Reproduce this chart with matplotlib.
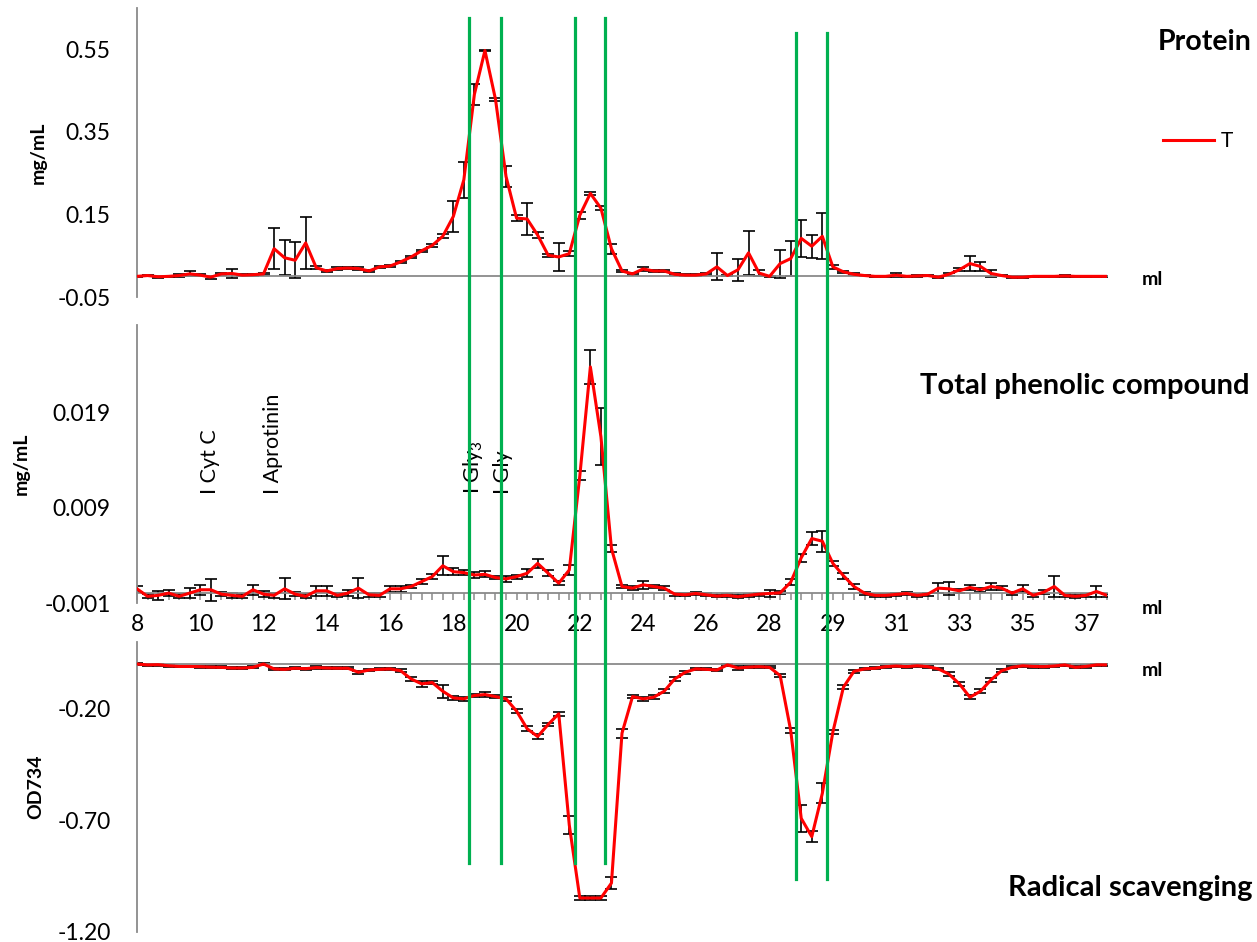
import numpy as np
import matplotlib
matplotlib.use("Agg")
import matplotlib.pyplot as plt
from matplotlib import transforms
from matplotlib.lines import Line2D

plt.rcParams['font.family'] = ['Lato', 'DejaVu Sans']
plt.rcParams['mathtext.default'] = 'regular'

# category labels on the elution axis (one label every 6 fractions)
x_labels = ['8', '10', '12', '14', '16', '18', '20', '22', '24', '26',
            '28', '29', '31', '33', '35', '37']
label_step = 6

# protein, mg/mL
protein = [0.000, 0.002, -0.001, 0.000, 0.002, 0.006, 0.003, -0.002, 0.006, 0.007, 0.003, 0.004, 0.006,
           0.067, 0.045, 0.039, 0.081, 0.021, 0.013, 0.019, 0.020, 0.019, 0.013, 0.023, 0.025, 0.035,
           0.047, 0.062, 0.075, 0.097, 0.145, 0.234, 0.441, 0.547, 0.429, 0.242, 0.141, 0.139, 0.100,
           0.051, 0.047, 0.055, 0.148, 0.201, 0.165, 0.067, 0.013, 0.006, 0.018, 0.013, 0.013, 0.005,
           0.003, 0.003, 0.006, 0.023, 0.002, 0.016, 0.057, 0.008, 0.000, 0.031, 0.043, 0.092, 0.073,
           0.097, 0.023, 0.011, 0.005, 0.002, 0.000, 0.000, 0.003, 0.000, 0.001, 0.002, -0.002, 0.005,
           0.016, 0.031, 0.024, 0.007, 0.002, -0.002, -0.002, 0.000, 0.000, 0.000, 0.001, 0.000, 0.000, 0.000, 0.000]
protein_err = [0.002, 0.002, 0.002, 0.002, 0.003, 0.006, 0.002, 0.004, 0.003, 0.010, 0.002, 0.002, 0.003,
               0.050, 0.042, 0.044, 0.063, 0.004, 0.003, 0.003, 0.003, 0.003, 0.003, 0.003, 0.003, 0.003,
               0.003, 0.003, 0.004, 0.005, 0.038, 0.044, 0.026, 0.002, 0.004, 0.026, 0.008, 0.039, 0.008,
               0.003, 0.033, 0.006, 0.008, 0.004, 0.005, 0.012, 0.002, 0.002, 0.005, 0.002, 0.002, 0.002,
               0.002, 0.002, 0.002, 0.033, 0.002, 0.027, 0.054, 0.008, 0.002, 0.034, 0.043, 0.044, 0.028,
               0.056, 0.004, 0.003, 0.002, 0.002, 0.002, 0.002, 0.004, 0.002, 0.002, 0.002, 0.003, 0.003,
               0.004, 0.019, 0.011, 0.008, 0.002, 0.002, 0.002, 0.002, 0.002, 0.002, 0.002, 0.002, 0.002, 0.002, 0.002]

# total phenolic compound, mg/mL (values x 1e-3)
phenolic = [0.49, -0.30, -0.20, 0.04, -0.30, 0.04, 0.39, 0.39, -0.07, -0.20, -0.30, 0.39, -0.07,
            -0.20, 0.49, -0.07, -0.30, 0.28, 0.28, -0.20, 0.04, 0.56, -0.14, -0.20, 0.49, 0.49,
            0.73, 1.25, 1.77, 2.91, 2.29, 2.19, 1.94, 2.01, 1.67, 1.53, 1.77, 2.12, 3.16,
            2.12, 1.08, 2.47, 12.37, 23.8, 16.47, 4.73, 0.73, 0.56, 0.91, 0.73, 0.56, -0.07,
            -0.14, 0.00, -0.14, -0.27, -0.20, -0.34, -0.20, -0.07, 0.00, 0.07, 1.18, 3.75, 5.77,
            5.49, 3.16, 1.87, 0.73, 0.04, -0.20, -0.20, -0.10, 0.00, -0.20, -0.07, 0.56, 0.49,
            0.28, 0.63, 0.39, 0.73, 0.56, 0.04, 0.49, -0.20, 0.14, 0.73, -0.20, -0.30, -0.20, 0.21, -0.20]
phenolic_err = [0.3, 0.2, 0.5, 0.3, 0.2, 0.5, 0.5, 1.15, 0.2, 0.3, 0.2, 0.5, 0.3,
                0.3, 1.1, 0.2, 0.2, 0.5, 0.5, 0.2, 0.3, 1.05, 0.2, 0.2, 0.3, 0.3,
                0.2, 0.3, 0.3, 1.0, 0.4, 0.3, 0.3, 0.3, 0.2, 0.3, 0.2, 0.4, 0.5,
                0.3, 0.2, 0.5, 0.5, 1.8, 3.0, 0.4, 0.2, 0.2, 0.45, 0.2, 0.2, 0.15,
                0.15, 0.15, 0.15, 0.15, 0.15, 0.15, 0.15, 0.15, 0.35, 0.15, 0.3, 0.4, 0.65,
                1.1, 0.3, 0.3, 0.3, 0.15, 0.15, 0.15, 0.15, 0.15, 0.15, 0.15, 0.5, 0.7,
                0.2, 0.3, 0.2, 0.4, 0.2, 0.15, 0.35, 0.15, 0.2, 1.1, 0.15, 0.15, 0.15, 0.6, 0.15]

# radical scavenging, OD734
scavenging = [0.000, -0.004, -0.003, -0.008, -0.011, -0.011, -0.012, -0.014, -0.015, -0.018, -0.018, -0.015, 0.000,
              -0.022, -0.024, -0.019, -0.021, -0.016, -0.018, -0.019, -0.019, -0.037, -0.027, -0.024, -0.022, -0.030,
              -0.067, -0.089, -0.083, -0.122, -0.152, -0.156, -0.141, -0.137, -0.146, -0.156, -0.211, -0.290, -0.325,
              -0.271, -0.223, -0.722, -1.049, -1.049, -1.049, -0.982, -0.310, -0.146, -0.156, -0.149, -0.122, -0.067,
              -0.037, -0.022, -0.024, -0.027, -0.004, -0.018, -0.014, -0.012, -0.015, -0.052, -0.298, -0.692, -0.774,
              -0.580, -0.305, -0.104, -0.033, -0.022, -0.019, -0.012, -0.009, -0.012, -0.008, -0.012, -0.022, -0.045,
              -0.089, -0.149, -0.122, -0.071, -0.030, -0.015, -0.008, -0.011, -0.012, -0.009, -0.004, -0.015, -0.011, -0.004, -0.004]
scavenging_err = [0.004, 0.004, 0.004, 0.004, 0.004, 0.004, 0.004, 0.004, 0.004, 0.004, 0.004, 0.004, 0.005,
                  0.005, 0.005, 0.005, 0.005, 0.005, 0.005, 0.005, 0.005, 0.006, 0.005, 0.005, 0.005, 0.006,
                  0.008, 0.015, 0.008, 0.030, 0.010, 0.008, 0.008, 0.010, 0.008, 0.008, 0.008, 0.010, 0.010,
                  0.008, 0.008, 0.040, 0.008, 0.008, 0.008, 0.027, 0.020, 0.008, 0.008, 0.008, 0.008, 0.008,
                  0.006, 0.005, 0.005, 0.005, 0.005, 0.008, 0.005, 0.005, 0.005, 0.008, 0.010, 0.060, 0.025,
                  0.045, 0.010, 0.008, 0.006, 0.005, 0.005, 0.005, 0.005, 0.005, 0.005, 0.005, 0.006, 0.008,
                  0.010, 0.010, 0.010, 0.008, 0.008, 0.005, 0.005, 0.005, 0.005, 0.005, 0.005, 0.005, 0.005, 0.005, 0.005]

# standards (fraction position) and the cut lines between pooled peaks
standards = [('I Cyt C', 6.9), ('I Aprotinin', 12.9), ('I Gly$_3$', 31.9), ('I Gly', 34.7)]
cut_fractions = [31.45, 34.5, 41.5, 44.35, 62.5, 65.45]

W, H = 1257, 942
fig = plt.figure(figsize=(W / 100, H / 100), dpi=100)

x = np.arange(len(protein))
GRAY = '#8a8a8a'
RED = '#ff0000'


def panel(rect, y, err, ylim, ticks, ticklabels):
    ax = fig.add_axes(rect)
    ax.errorbar(x, y, yerr=err, fmt='none', ecolor='black', elinewidth=1.2,
                capsize=4.3, capthick=1.2, zorder=2)
    ax.plot(x, y, color=RED, lw=2.2, zorder=3)
    ax.set_xlim(0, len(y) - 1)
    ax.set_ylim(*ylim)
    ax.set_yticks(ticks)
    ax.set_yticklabels(ticklabels)
    ax.tick_params(axis='y', length=0, pad=19, labelsize=16.5)
    for s in ['top', 'right']:
        ax.spines[s].set_visible(False)
    ax.spines['left'].set_color(GRAY)
    ax.spines['left'].set_linewidth(1.3)
    ax.spines['bottom'].set_position(('data', 0))
    ax.spines['bottom'].set_color(GRAY)
    ax.spines['bottom'].set_linewidth(1.3)
    ax.set_xticks([])
    ax.patch.set_visible(False)
    return ax


ax1 = panel([137 / W, 1 - 297 / H, 970 / W, 289 / H], protein, protein_err,
            (-0.05, 0.65), [-0.05, 0.15, 0.35, 0.55], ['-0.05', '0.15', '0.35', '0.55'])

ph = np.array(phenolic) * 1e-3
ph_err = np.array(phenolic_err) * 1e-3
ax2 = panel([137 / W, 1 - 603 / H, 970 / W, 278 / H], ph, ph_err,
            (-0.001, 0.0282), [-0.001, 0.009, 0.019], ['-0.001', '0.009', '0.019'])
ax2.set_xticks(np.arange(0, len(ph), label_step))
ax2.set_xticklabels(x_labels)
ax2.set_xticks(x, minor=True)
ax2.tick_params(axis='x', which='both', direction='out', length=5, color=GRAY,
                width=1.1, labelsize=16.5, pad=10)

ax3 = panel([137 / W, 1 - 931.7 / H, 970 / W, 290 / H], scavenging, scavenging_err,
            (-1.2, 0.1), [-1.2, -0.7, -0.2], ['-1.20', '-0.70', '-0.20'])

for label, pos in standards:
    ax2.text(pos, 0.0104, label, rotation=90, ha='center', va='bottom', fontsize=15.5)

# green cut lines crossing the three panels
blend = transforms.blended_transform_factory(ax2.transData, fig.transFigure)
spans = [(18, 863), (18, 863), (18, 863), (18, 863), (33, 879), (33, 879)]
for xc, (top, bot) in zip(cut_fractions, spans):
    fig.add_artist(Line2D([xc, xc], [1 - top / H, 1 - bot / H], transform=blend,
                          color='#00b050', lw=2.3, zorder=5))

# titles and axis captions
fig.text(1252 / W, 1 - 42 / H, 'Protein', ha='right', va='center', fontsize=20.5, fontweight='bold')
fig.text(1249 / W, 1 - 386 / H, 'Total phenolic compound', ha='right', va='center', fontsize=21, fontweight='bold')
fig.text(1252 / W, 1 - 888 / H, 'Radical scavenging', ha='right', va='center', fontsize=21, fontweight='bold')
fig.text(38 / W, 1 - 153 / H, 'mg/mL', rotation=90, ha='center', va='center', fontsize=14, fontweight='bold')
fig.text(21 / W, 1 - 464 / H, 'mg/mL', rotation=90, ha='center', va='center', fontsize=14, fontweight='bold')
fig.text(36 / W, 1 - 787 / H, 'OD734', rotation=90, ha='center', va='center', fontsize=14, fontweight='bold')
for yy in [280, 608, 671]:
    fig.text(1152 / W, 1 - yy / H, 'ml', ha='center', va='center', fontsize=14, fontweight='bold')

fig.legend(handles=[Line2D([], [], color=RED, lw=2.2)], labels=['T'], loc='center left',
           bbox_to_anchor=(1163 / W, 1 - 141 / H), frameon=False, fontsize=15,
           handlelength=2.45, handletextpad=0.3, borderpad=0, borderaxespad=0)

fig.savefig('out.png', dpi=100)
